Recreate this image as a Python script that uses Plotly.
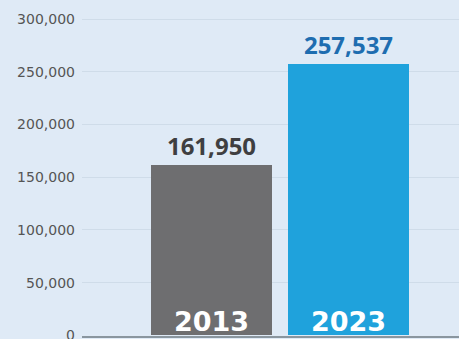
import plotly.graph_objects as go

years = ["2013", "2023"]
values = [161950, 257537]
bar_colors = ["#6e6e70", "#1fa2dc"]
label_colors = ["#3f3f41", "#1e6db0"]
tick_vals = [0, 50000, 100000, 150000, 200000, 250000, 300000]
tick_text = ["0", "50,000", "100,000", "150,000", "200,000", "250,000", "300,000"]

fig = go.Figure()
fig.add_trace(go.Bar(
    x=years, y=values,
    marker=dict(color=bar_colors, line=dict(width=0)),
    width=0.883,
    text=[f"{v:,}" for v in values],
    texttemplate="<b>%{text}</b>",
    textposition="outside",
    textfont=dict(family="Open Sans, sans-serif", size=24, color=label_colors),
    cliponaxis=False,
))

for i, yr in enumerate(years):
    fig.add_annotation(x=i, y=0, xref="x", yref="y", text=f"<b>{yr}</b>", showarrow=False,
                       yanchor="bottom", yshift=-4,
                       font=dict(family="DejaVu Sans, sans-serif", size=27, color="white"))

fig.update_layout(
    width=459, height=339,
    margin=dict(l=82, r=0, t=0, b=3, autoexpand=False),
    paper_bgcolor="#dfeaf6", plot_bgcolor="#dfeaf6",
    showlegend=False,
    font=dict(family="Open Sans, sans-serif"),
    xaxis=dict(type="category", range=[-0.942, 1.81], showticklabels=False, showgrid=False,
               showline=True, linecolor="#8a969f", linewidth=2, ticks="", automargin=False),
    yaxis=dict(range=[-600, 318200], tickvals=tick_vals, ticktext=tick_text,
               showgrid=True, gridcolor="#cfdce9", gridwidth=1,
               zeroline=False, ticks="", ticklabelstandoff=6, automargin=False,
               ticklabeloverflow="allow",
               tickfont=dict(family="DejaVu Sans, sans-serif", size=14, color="#555555")),
    bargap=0,
)

fig.write_html("out.html")
